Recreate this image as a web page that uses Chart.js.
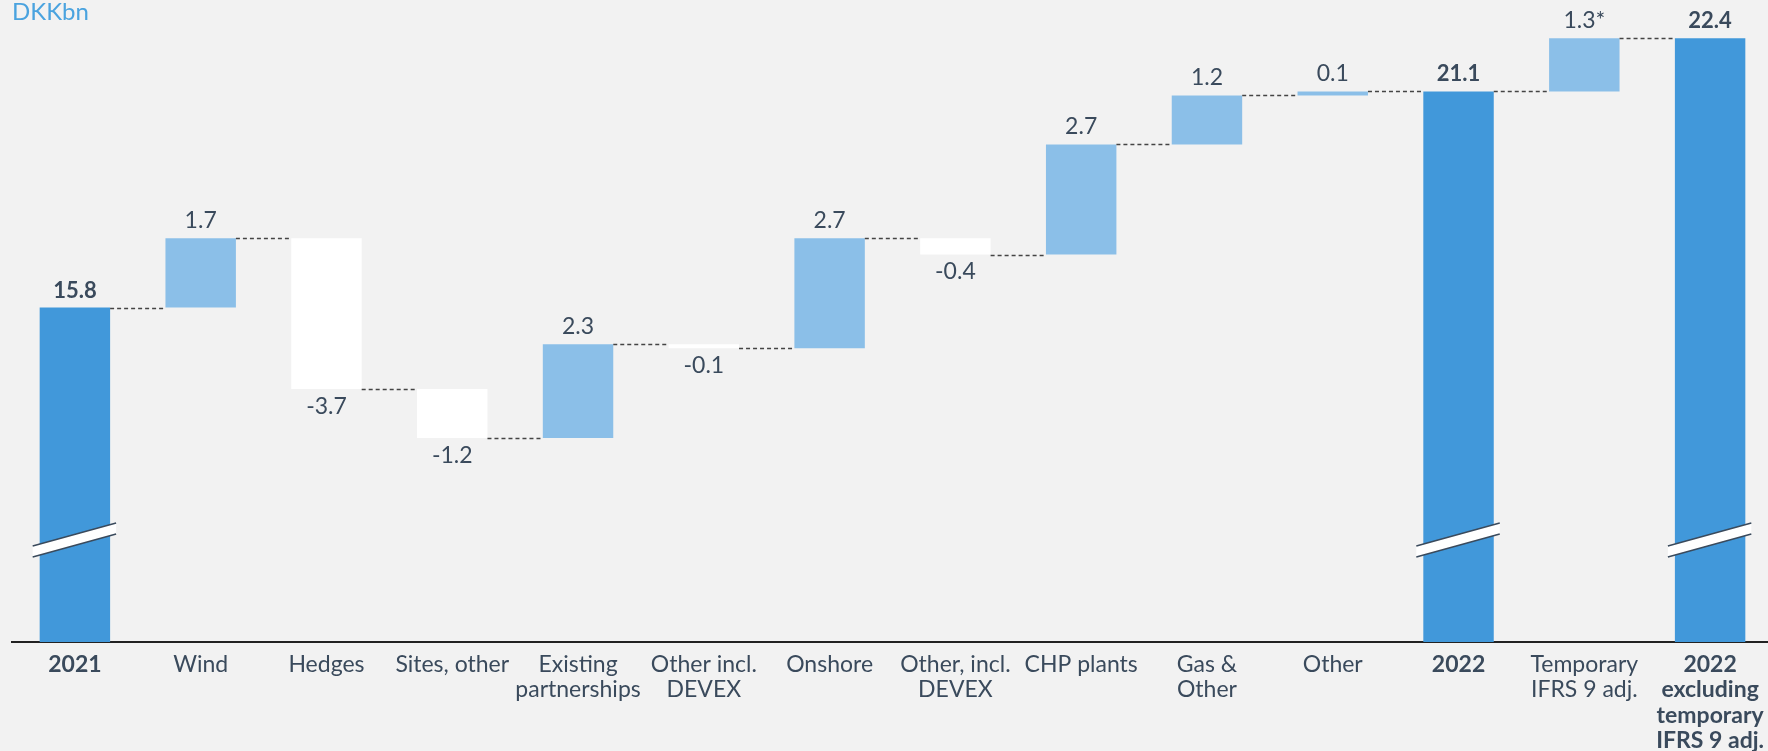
<!DOCTYPE html>
<html>
<head>
<meta charset="utf-8">
<script src="https://cdn.jsdelivr.net/npm/chart.js@4"></script>
<style>
  body { margin: 0; background: #f2f2f2; overflow: hidden; }
  #wrap { position: relative; width: 1773px; height: 751px; }
  #unit { position: absolute; left: 12px; top: -4px; font: 24px Lato, sans-serif; color: #4aa3df; }
</style>
</head>
<body>
<div id="wrap">
  <div id="unit">DKKbn</div>
  <canvas id="wf"></canvas>
</div>
<script>
// categorias e valores do waterfall
const categorias = [
  ['2021'], ['Wind'], ['Hedges'], ['Sites, other'], ['Existing', 'partnerships'],
  ['Other incl.', 'DEVEX'], ['Onshore'], ['Other, incl.', 'DEVEX'], ['CHP plants'],
  ['Gas &', 'Other'], ['Other'], ['2022'], ['Temporary', 'IFRS 9 adj.'],
  ['2022', 'excluding', 'temporary', 'IFRS 9 adj.']
];
const variacoes = [15.8, 1.7, -3.7, -1.2, 2.3, -0.1, 2.7, -0.4, 2.7, 1.2, 0.1, 21.1, 1.3, 22.4];
const ehTotal = [true, false, false, false, false, false, false, false, false, false, false, true, false, true];
const rotulos = ['15.8', '1.7', '-3.7', '-1.2', '2.3', '-0.1', '2.7', '-0.4', '2.7', '1.2', '0.1', '21.1', '1.3*', '22.4'];

const yMin = 7.6, yMax = 22.85;
const valorQuebra = 10.1; // onde fica a marca de eixo quebrado

// monta as barras flutuantes [inicio, fim]
let acumulado = 0;
const barras = variacoes.map((v, i) => {
  if (ehTotal[i]) { acumulado = v; return [yMin, v]; }
  const ini = acumulado;
  acumulado = +(acumulado + v).toFixed(2);
  return [ini, acumulado];
});
const niveis = barras.map(b => b[1]);

const corTexto = '#3a4a5c';
const cores = variacoes.map((v, i) => ehTotal[i] ? '#4198da' : (v >= 0 ? '#8bbfe8' : '#ffffff'));

const extras = {
  id: 'extras',
  afterDatasetsDraw(chart) {
    const ctx = chart.ctx;
    const y = chart.scales.y;
    const meta = chart.getDatasetMeta(0);
    ctx.save();
    // linhas tracejadas entre barras
    ctx.strokeStyle = '#444';
    ctx.lineWidth = 1.3;
    ctx.setLineDash([4, 3]);
    for (let i = 0; i < meta.data.length - 1; i++) {
      const a = meta.data[i], b = meta.data[i + 1];
      const py = Math.round(y.getPixelForValue(niveis[i])) + 0.5;
      ctx.beginPath();
      ctx.moveTo(a.x + a.width / 2, py);
      ctx.lineTo(b.x - b.width / 2, py);
      ctx.stroke();
    }
    ctx.setLineDash([]);
    // rotulos de valor
    ctx.fillStyle = corTexto;
    ctx.textAlign = 'center';
    meta.data.forEach((el, i) => {
      const p1 = y.getPixelForValue(barras[i][0]);
      const p2 = y.getPixelForValue(barras[i][1]);
      ctx.font = ehTotal[i] ? 'bold 22px Lato, sans-serif' : '23px Lato, sans-serif';
      if (variacoes[i] >= 0) {
        ctx.textBaseline = 'bottom';
        ctx.fillText(rotulos[i], el.x, Math.min(p1, p2) - 6);
      } else {
        ctx.textBaseline = 'top';
        ctx.fillText(rotulos[i], el.x, Math.max(p1, p2) + 6);
      }
    });
    // marcas de quebra nas barras de total
    const yc = y.getPixelForValue(valorQuebra);
    meta.data.forEach((el, i) => {
      if (!ehTotal[i]) return;
      const l = el.x - el.width / 2 - 7, r = el.x + el.width / 2 + 6;
      const d = 11.5, h = 11;
      ctx.fillStyle = '#ffffff';
      ctx.beginPath();
      ctx.moveTo(l, yc + d - h / 2);
      ctx.lineTo(r, yc - d - h / 2);
      ctx.lineTo(r, yc - d + h / 2);
      ctx.lineTo(l, yc + d + h / 2);
      ctx.closePath();
      ctx.fill();
      ctx.strokeStyle = '#3a4a5c';
      ctx.lineWidth = 1.5;
      ctx.beginPath();
      ctx.moveTo(l, yc + d - h / 2); ctx.lineTo(r, yc - d - h / 2);
      ctx.moveTo(l, yc + d + h / 2); ctx.lineTo(r, yc - d + h / 2);
      ctx.stroke();
    });
    ctx.restore();
  }
};

new Chart(document.getElementById('wf'), {
  type: 'bar',
  data: {
    labels: categorias,
    datasets: [{
      data: barras,
      backgroundColor: cores,
      borderWidth: 0,
      borderSkipped: false,
      barPercentage: 0.56,
      categoryPercentage: 1
    }]
  },
  options: {
    responsive: true,
    maintainAspectRatio: false,
    animation: false,
    layout: { padding: { left: 12, right: 0, top: 20, bottom: 0 } },
    plugins: { legend: { display: false }, tooltip: { enabled: false } },
    scales: {
      x: {
        grid: { display: false },
        border: { display: true, color: '#222', width: 2 },
        ticks: {
          color: corTexto,
          padding: 2,
          autoSkip: false,
          maxRotation: 0,
          font: (c) => ({ family: 'Lato, sans-serif', size: 23, lineHeight: 1.1, weight: ehTotal[c.index] ? 'bold' : 'normal' })
        },
        afterFit(s) { s.height = 109; }
      },
      y: { display: false, min: yMin, max: yMax }
    }
  },
  plugins: [extras]
});
</script>
</body>
</html>
